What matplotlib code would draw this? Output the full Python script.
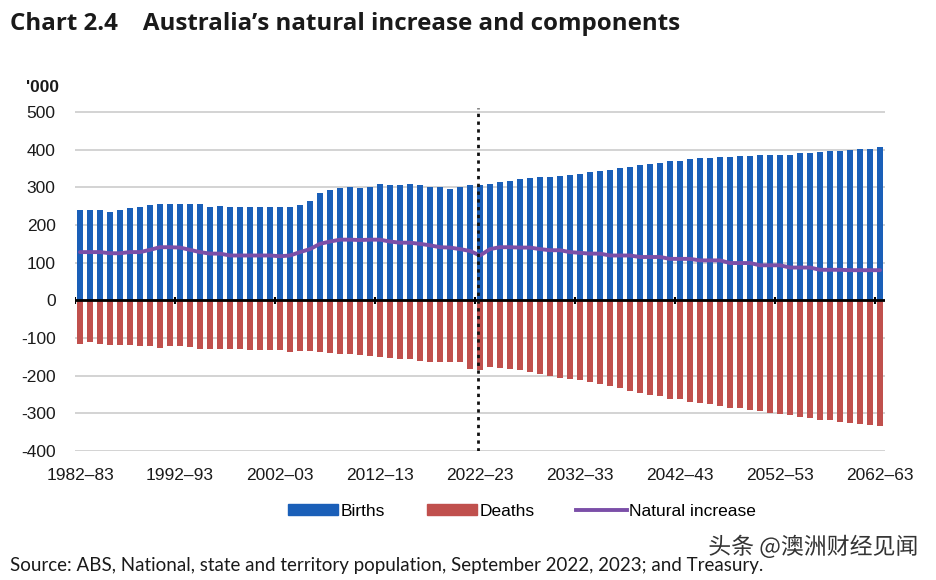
import matplotlib
matplotlib.use('Agg')
import matplotlib.pyplot as plt
import numpy as np
from matplotlib.patches import Patch
from matplotlib.lines import Line2D
import matplotlib.patheffects as pe

# ---------------- data ----------------
years = [f"{y}–{(y + 1) % 100:02d}" for y in range(1982, 2063)]

births = [239, 239, 239, 234, 241, 245, 248, 254, 257, 257,
          257, 257, 257, 248, 251, 248, 248, 248, 248, 248,
          248, 248, 254, 263, 286, 294, 299, 301, 299, 301,
          308, 305, 305, 308, 305, 301, 301, 296, 301, 305,
          305, 310, 315, 318, 321, 324, 327, 327, 330, 333,
          336, 340, 343, 347, 352, 355, 359, 363, 365, 369,
          371, 375, 377, 377, 380, 380, 383, 383, 386, 386,
          387, 387, 391, 391, 393, 396, 396, 399, 401, 403,
          407]

deaths = [-115, -111, -115, -118, -119, -118, -121, -121, -126, -121,
          -121, -124, -128, -128, -128, -130, -130, -133, -133, -133,
          -133, -136, -134, -134, -137, -140, -143, -143, -146, -148,
          -150, -152, -155, -157, -161, -163, -163, -165, -165, -181,
          -186, -177, -179, -182, -186, -190, -195, -202, -205, -210,
          -212, -217, -223, -228, -234, -241, -245, -252, -255, -261,
          -263, -270, -272, -276, -281, -285, -287, -292, -294, -299,
          -303, -305, -310, -312, -317, -318, -323, -325, -329, -332,
          -334]

natural_increase = [128, 128, 128, 125, 125, 128, 128, 134, 141, 141,
                    140, 134, 128, 124, 124, 119, 119, 119, 119, 119,
                    117, 119, 128, 136, 150, 156, 161, 161, 160, 161,
                    161, 156, 153, 153, 150, 146, 141, 140, 136, 131,
                    119, 136, 141, 141, 140, 140, 136, 133, 133, 128,
                    126, 124, 124, 119, 119, 119, 115, 115, 115, 110,
                    110, 110, 106, 106, 106, 99, 99, 99, 93, 93,
                    93, 87, 87, 87, 81, 81, 81, 80, 80, 80,
                    80]

tick_labels = years[::10]
y_ticks = [-400, -300, -200, -100, 0, 100, 200, 300, 400, 500]
projection_start = "2022–23"

# ---------------- style ----------------
BLUE = '#1a5fb8'
RED = '#c0504d'
PURPLE = '#7b4fa8'
TXT = '#1a1a1a'

fig = plt.figure(figsize=(9.36, 5.8), dpi=100)
W, H = 936, 580
ax = fig.add_axes([75 / W, 1 - 451 / H, 810 / W, (451 - 108.2) / H])

x = np.arange(len(years))
ax.bar(x, births, width=0.66, color=BLUE, zorder=2, linewidth=0)
ax.bar(x, deaths, width=0.66, color=RED, zorder=2, linewidth=0)
ax.plot(x, natural_increase, color=PURPLE, lw=2.8, zorder=4,
        solid_capstyle='round')

ax.set_xlim(-0.5, len(years) - 0.5)
ax.set_ylim(-400, 510)
ax.set_yticks(y_ticks)
ax.set_yticklabels([str(v) for v in y_ticks])
ax.set_xticks(x[::10])
ax.set_xticklabels(tick_labels)

for s in ax.spines.values():
    s.set_visible(False)
ax.tick_params(axis='both', length=0, labelsize=12.5, colors=TXT)
ax.tick_params(axis='y', pad=14)
ax.tick_params(axis='x', pad=12)
for lab in ax.get_xticklabels() + ax.get_yticklabels():
    lab.set_fontfamily('Liberation Sans')

ax.yaxis.grid(True, color='#c8c8c8', lw=1.1, zorder=0)
ax.set_axisbelow(True)

# zero axis with category tick marks
ax.axhline(0, color='black', lw=2, zorder=5)
ax.vlines(np.arange(-0.5, len(years), 10), -10, 10, color='black', lw=1.5, zorder=5)

# projection divider
px = years.index(projection_start) - 0.25
ax.axvline(px, color='#111111', ls=(0, (1.2, 1.6)), lw=2.0, zorder=6)

# ---------------- text ----------------
fig.text(10 / W, 1 - 24 / H, "Chart 2.4    Australia’s natural increase and components",
         fontsize=17.4, fontweight='bold', family='Open Sans', color=TXT, va='center', ha='left')
fig.text(26 / W, 1 - 87 / H, "'000", fontsize=12.5, family='Liberation Sans',
         color=TXT, va='center', ha='left', fontweight='bold')

handles = [Patch(color=BLUE), Patch(color=RED), Line2D([0], [0], color=PURPLE, lw=2.8)]
fig.legend(handles, ['Births', 'Deaths', 'Natural increase'], loc='center',
           bbox_to_anchor=(522 / W, 1 - 511 / H), ncol=3, frameon=False,
           handlelength=2.9, handleheight=0.6, handletextpad=0.15, columnspacing=2.4,
           prop={'family': 'Liberation Sans', 'size': 12.5})

fig.text(10 / W, 1 - 566 / H,
         "Source: ABS, National, state and territory population, September 2022, 2023; and Treasury.",
         fontsize=13.5, family='Lato', color=TXT, va='center', ha='left')

fig.text(918 / W, 1 - 547 / H, "头条 @澳洲财经见闻", fontsize=16.5,
         family=['Noto Sans CJK SC', 'DejaVu Sans'], color='#333333', va='center', ha='right',
         path_effects=[pe.withStroke(linewidth=2.5, foreground='white')])

fig.savefig('out.png', dpi=100, facecolor='white')
